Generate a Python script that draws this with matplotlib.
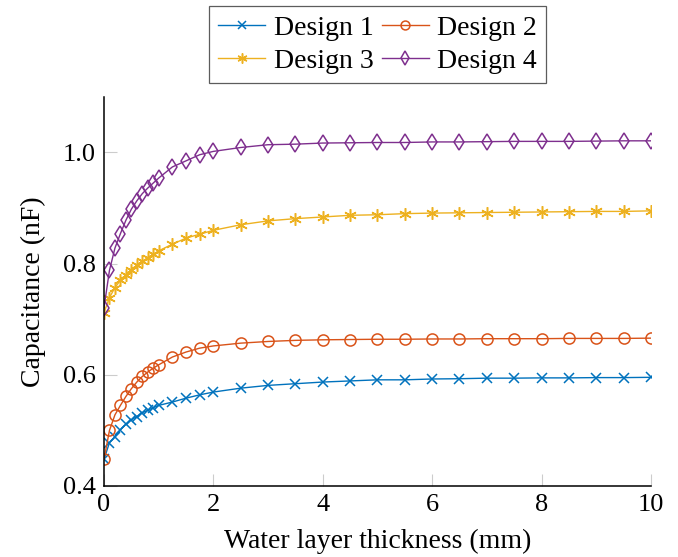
import matplotlib
matplotlib.use("Agg")
import matplotlib.pyplot as plt

plt.rcParams['font.family'] = ['Liberation Serif', 'DejaVu Serif']
plt.rcParams['mathtext.fontset'] = 'stix'

thickness = [0, 0.1, 0.2, 0.3, 0.4, 0.5, 0.6, 0.7, 0.8, 0.9, 1.0,
             1.25, 1.5, 1.75, 2.0, 2.5, 3.0, 3.5, 4.0, 4.5, 5.0, 5.5,
             6.0, 6.5, 7.0, 7.5, 8.0, 8.5, 9.0, 9.5, 10.0]

design1 = [0.448, 0.478, 0.489, 0.501, 0.511, 0.519, 0.525, 0.532, 0.536, 0.541, 0.545,
           0.551, 0.558, 0.564, 0.569, 0.576, 0.581, 0.584, 0.587, 0.589, 0.591, 0.591,
           0.5925, 0.593, 0.594, 0.594, 0.5945, 0.5945, 0.595, 0.595, 0.5955]
design2 = [0.448, 0.500, 0.528, 0.545, 0.561, 0.575, 0.587, 0.597, 0.605, 0.612, 0.618,
           0.632, 0.641, 0.648, 0.652, 0.657, 0.660, 0.662, 0.663, 0.6635, 0.664, 0.664,
           0.6645, 0.6645, 0.665, 0.665, 0.665, 0.6655, 0.6655, 0.6655, 0.666]
design3 = [0.712, 0.739, 0.757, 0.770, 0.780, 0.789, 0.797, 0.804, 0.811, 0.817, 0.823,
           0.835, 0.846, 0.853, 0.860, 0.870, 0.877, 0.881, 0.884, 0.887, 0.888, 0.890,
           0.891, 0.8915, 0.892, 0.8925, 0.893, 0.8935, 0.894, 0.894, 0.895]
design4 = [0.721, 0.788, 0.828, 0.854, 0.878, 0.898, 0.913, 0.926, 0.936, 0.945, 0.954,
           0.974, 0.985, 0.996, 1.002, 1.009, 1.014, 1.015, 1.017, 1.0175, 1.018, 1.018,
           1.019, 1.019, 1.0195, 1.02, 1.02, 1.02, 1.0205, 1.021, 1.021]

labels = ["Design 1", "Design 2", "Design 3", "Design 4"]
xticks = [0, 2, 4, 6, 8, 10]
yticks = [0.4, 0.6, 0.8, 1.0]

fig = plt.figure(figsize=(6.78, 5.57), dpi=100)
ax = fig.add_axes([0.1534, 0.1275, 0.8066, 0.6985])

h1, = ax.plot(thickness, design1, color='#0072BD', lw=1.0, marker='x', ms=6.5, mew=1.1, label=labels[0])
h2, = ax.plot(thickness, design2, color='#D95319', lw=1.0, marker='o', ms=8, mfc='none', mew=1.1, label=labels[1])
h3, = ax.plot(thickness, design3, color='#EDB120', lw=1.0, marker=(6, 2, 0), ms=9, mew=1.1, label=labels[2])
h4, = ax.plot(thickness, design4, color='#7E2F8E', lw=1.0, marker='d', ms=8.5, mfc='none', mew=1.1, label=labels[3])

ax.set_xlim(0, 10)
ax.set_ylim(0.4, 1.1)
ax.set_xticks(xticks)
ax.set_xticklabels([str(t) for t in xticks])
ax.set_yticks(yticks)
ax.set_yticklabels([f"{t:.1f}" for t in yticks])
ax.spines['top'].set_visible(False)
ax.spines['right'].set_visible(False)
ax.spines['left'].set_linewidth(1.1)
ax.spines['bottom'].set_linewidth(1.1)
ax.tick_params(direction='in', length=9, width=0.8, color='0.8', labelsize=19, pad=6)

ax.set_xlabel("Water layer thickness (mm)", fontsize=20, labelpad=9)
ax.set_ylabel("Capacitance (nF)", fontsize=20, labelpad=12)

# row-wise order: Design 1, Design 2 / Design 3, Design 4
leg = ax.legend([h1, h3, h2, h4], [labels[0], labels[2], labels[1], labels[3]],
                loc='lower center', bbox_to_anchor=(0.5, 1.036), ncol=2, fontsize=20,
                frameon=True, fancybox=False, edgecolor='0.2', handlelength=1.7,
                columnspacing=0.3, handletextpad=0.3, borderpad=0.32, labelspacing=0.28,
                borderaxespad=0, markerscale=0.8)
leg.get_frame().set_linewidth(0.9)

fig.savefig("out.png", dpi=100)
